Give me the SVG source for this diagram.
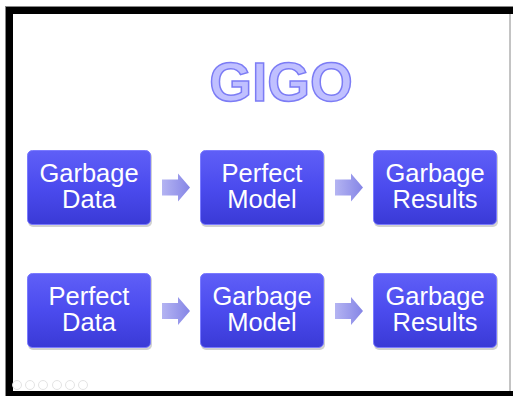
<svg xmlns="http://www.w3.org/2000/svg" width="513" height="396" viewBox="0 0 513 396">
<defs>
<linearGradient id="boxg" x1="0" y1="0" x2="0" y2="1">
<stop offset="0" stop-color="#5f5ff7"/>
<stop offset="0.5" stop-color="#4b4bee"/>
<stop offset="1" stop-color="#3a3ad6"/>
</linearGradient>
<linearGradient id="arrg" x1="0" y1="0" x2="1" y2="0">
<stop offset="0" stop-color="#b4b4f2"/>
<stop offset="1" stop-color="#8585e6"/>
</linearGradient>
<path id="arr" d="M0,-8 H16 V-14 L28,0 L16,14 V8 H0 Z"/>
</defs>
<style>
.box{fill:url(#boxg);stroke:#7a7aff;stroke-width:1}
.shadow{fill:#000;opacity:0.18}
.lbl{font-family:"Liberation Sans",Arial,sans-serif;font-size:25.5px;fill:#ffffff;text-anchor:middle}
.arrow{fill:url(#arrg)}
.ctl{fill:none;stroke:#e4e4e4;stroke-width:1}
</style>
<rect x="0" y="0" width="513" height="396" fill="#ffffff"/>
<rect x="5" y="6" width="508" height="8" fill="#000000"/>
<rect x="5" y="6" width="8" height="390" fill="#000000"/>
<rect x="5" y="391" width="508" height="5" fill="#000000"/>
<line x1="510" y1="14" x2="510" y2="391" stroke="#888" stroke-width="1"/>
<line x1="5.5" y1="6" x2="5.5" y2="396" stroke="#888" stroke-width="1"/>
<line x1="5" y1="6.5" x2="513" y2="6.5" stroke="#888" stroke-width="1"/>
<text x="281" y="101" text-anchor="middle" font-family="Liberation Sans,Arial,sans-serif" font-weight="bold" font-size="55" fill="#c0c0ff" stroke="#7c7cf5" stroke-width="1.5">GIGO</text>
<g id="n1"><rect class="shadow" x="28" y="152" width="124" height="75" rx="5"/><rect class="box" x="27.5" y="150.5" width="123" height="74" rx="5"/><text class="lbl" x="89" y="182">Garbage</text><text class="lbl" x="89" y="208">Data</text></g>
<g id="n2"><rect class="shadow" x="201" y="152" width="124" height="75" rx="5"/><rect class="box" x="200.5" y="150.5" width="123" height="74" rx="5"/><text class="lbl" x="262" y="182">Perfect</text><text class="lbl" x="262" y="208">Model</text></g>
<g id="n3"><rect class="shadow" x="374" y="152" width="124" height="75" rx="5"/><rect class="box" x="373.5" y="150.5" width="123" height="74" rx="5"/><text class="lbl" x="435" y="182">Garbage</text><text class="lbl" x="435" y="208">Results</text></g>
<g id="n4"><rect class="shadow" x="28" y="275" width="124" height="75" rx="5"/><rect class="box" x="27.5" y="273.5" width="123" height="74" rx="5"/><text class="lbl" x="89" y="305">Perfect</text><text class="lbl" x="89" y="331">Data</text></g>
<g id="n5"><rect class="shadow" x="201" y="275" width="124" height="75" rx="5"/><rect class="box" x="200.5" y="273.5" width="123" height="74" rx="5"/><text class="lbl" x="262" y="305">Garbage</text><text class="lbl" x="262" y="331">Model</text></g>
<g id="n6"><rect class="shadow" x="374" y="275" width="124" height="75" rx="5"/><rect class="box" x="373.5" y="273.5" width="123" height="74" rx="5"/><text class="lbl" x="435" y="305">Garbage</text><text class="lbl" x="435" y="331">Results</text></g>
<g id="connectors">
<use href="#arr" class="arrow" x="162" y="187.5"/>
<use href="#arr" class="arrow" x="335" y="187.5"/>
<use href="#arr" class="arrow" x="162" y="311"/>
<use href="#arr" class="arrow" x="335" y="311"/>
</g>
<g id="controls">
<circle class="ctl" cx="17" cy="385" r="4.5"/>
<circle class="ctl" cx="30" cy="385" r="4.5"/>
<circle class="ctl" cx="43" cy="385" r="4.5"/>
<circle class="ctl" cx="57" cy="385" r="4.5"/>
<circle class="ctl" cx="70" cy="385" r="4.5"/>
<circle class="ctl" cx="83" cy="385" r="4.5"/>
</g>
</svg>
